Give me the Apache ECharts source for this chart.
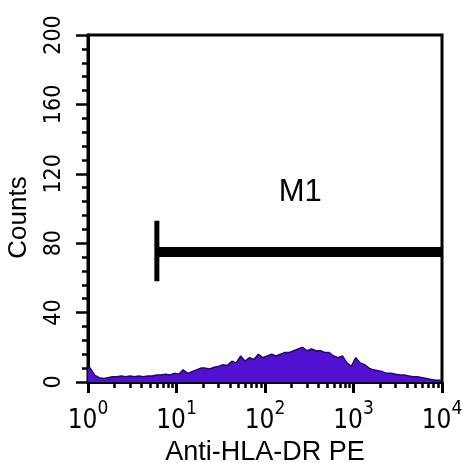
<!DOCTYPE html>
<html>
<head>
<meta charset="utf-8">
<script src="https://cdn.jsdelivr.net/npm/echarts@6/dist/echarts.min.js"></script>
<style>
    html, body { margin: 0; padding: 0; background: #fff; }
    #histDiv { width: 462px; height: 463px; }
</style>
</head>
<body>
<div id="histDiv"></div>
<script>
//直方图数据, 每个bin 0.05个数量级 (从10^0到10^4, 80个bin)
var binWidthDecade = 0.05;
var binCounts = [
    8, 4, 2.5, 2, 2.5, 3, 3, 3.5, 3, 3.5,
    3, 3.5, 3, 3.5, 3.5, 4, 4, 4.5, 4, 5,
    4.5, 7, 5, 6, 7, 8, 8, 7.5, 8.5, 9,
    10, 9.5, 12, 11, 15, 12, 14, 13, 16, 14,
    15, 16, 15, 16, 17, 17, 18, 19, 20, 18,
    19, 18, 18, 17, 17, 15, 14, 15, 11, 9,
    14, 11, 10, 8, 7, 6.5, 6, 5, 5, 4.5,
    4, 4, 3.5, 3, 3, 2.5, 2, 1.5, 1, 1
];
var majorTicks = [1, 10, 100, 1000, 10000];
var minorTicks = [2, 3, 4, 5, 6, 7, 8, 9, 20, 30, 40, 50, 60, 70, 80, 90,
    200, 300, 400, 500, 600, 700, 800, 900, 2000, 3000, 4000, 5000, 6000, 7000, 8000, 9000];
//M1门
var gateRange = [6, 10000];
var gateLevel = 75;
var gateTick = [58, 93];
var gateLabelPos = [250, 109];

var narrowFont = "'DejaVu Sans Condensed', 'Liberation Sans', sans-serif";

var histData = [];
for (var i = 0; i < binCounts.length; i++) {
    histData.push([Math.pow(10, (i + 0.5) * binWidthDecade), binCounts[i]]);
}
// 两端贴边
histData.unshift([1, binCounts[0]]);
histData.push([10000, binCounts[binCounts.length - 1]]);

var chart = echarts.init(document.getElementById('histDiv'));
var option = {
    backgroundColor: '#fff',
    animation: false,
    grid: {
        left: 88, right: 20, top: 35, bottom: 81,
        outerBoundsMode: 'none',
        containLabel: false,
        show: true, borderColor: '#000', borderWidth: 3, backgroundColor: 'transparent'
    },
    xAxis: [{
        type: 'log', logBase: 10, min: 1, max: 10000,
        position: 'bottom',
        axisLine: { lineStyle: { color: '#000', width: 3 } },
        axisTick: { show: true, inside: false, length: 11, customValues: majorTicks,
            lineStyle: { color: '#000', width: 3 } },
        splitLine: { show: false },
        axisLabel: {
            customValues: majorTicks,
            margin: 18,
            formatter: function (v) {
                return '{b|10}{s|' + Math.round(Math.log10(v)) + '}';
            },
            rich: {
                b: { fontFamily: narrowFont, fontSize: 26, color: '#000',
                    verticalAlign: 'bottom', lineHeight: 34 },
                s: { fontFamily: narrowFont, fontSize: 19, color: '#000',
                    verticalAlign: 'top', lineHeight: 34 }
            }
        },
        name: 'Anti-HLA-DR PE',
        nameLocation: 'middle',
        nameGap: 56,
        nameTextStyle: { fontFamily: 'Liberation Sans', fontSize: 27, color: '#000' }
    }, {
        type: 'log', logBase: 10, min: 1, max: 10000,
        position: 'bottom',
        axisLine: { show: false },
        axisTick: { show: true, inside: false, length: 6, customValues: minorTicks,
            lineStyle: { color: '#000', width: 2.5 } },
        axisLabel: { show: false },
        splitLine: { show: false }
    }],
    yAxis: {
        type: 'value', min: 0, max: 200, interval: 40,
        axisLine: { show: true, lineStyle: { color: '#000', width: 3 } },
        axisTick: { show: true, length: 12, lineStyle: { color: '#000', width: 2.5 } },
        minorTick: { show: true, splitNumber: 5, length: 6, lineStyle: { color: '#000', width: 2.5 } },
        splitLine: { show: false },
        axisLabel: {
            rotate: 90, margin: 22,
            fontFamily: narrowFont, fontSize: 23, color: '#000'
        },
        name: 'Counts',
        nameLocation: 'middle',
        nameGap: 56,
        nameTextStyle: { fontFamily: 'Liberation Sans', fontSize: 26, color: '#000', padding: [0, 18, 0, 0] }
    },
    series: [{
        name: 'histogram',
        type: 'line',
        data: histData,
        symbol: 'none',
        lineStyle: { color: '#24065e', width: 1.5 },
        areaStyle: { color: '#5210d0', opacity: 1 },
        z: 2
    }, {
        name: 'M1',
        type: 'line',
        data: [[gateRange[0], gateLevel], [gateRange[1], gateLevel]],
        symbol: 'none',
        lineStyle: { color: '#000', width: 10, cap: 'butt' },
        z: 3
    }, {
        name: 'M1tick',
        type: 'line',
        data: [[gateRange[0], gateTick[0]], [gateRange[0], gateTick[1]]],
        symbol: 'none',
        lineStyle: { color: '#000', width: 5, cap: 'butt' },
        z: 3
    }, {
        name: 'M1label',
        type: 'scatter',
        data: [gateLabelPos],
        symbolSize: 0,
        itemStyle: { color: '#000', opacity: 1 },
        label: {
            show: true, position: 'inside', formatter: 'M1',
            fontFamily: 'Liberation Sans', fontSize: 31, color: '#000', opacity: 1
        },
        z: 4
    }]
};
chart.setOption(option);
</script>
</body>
</html>
